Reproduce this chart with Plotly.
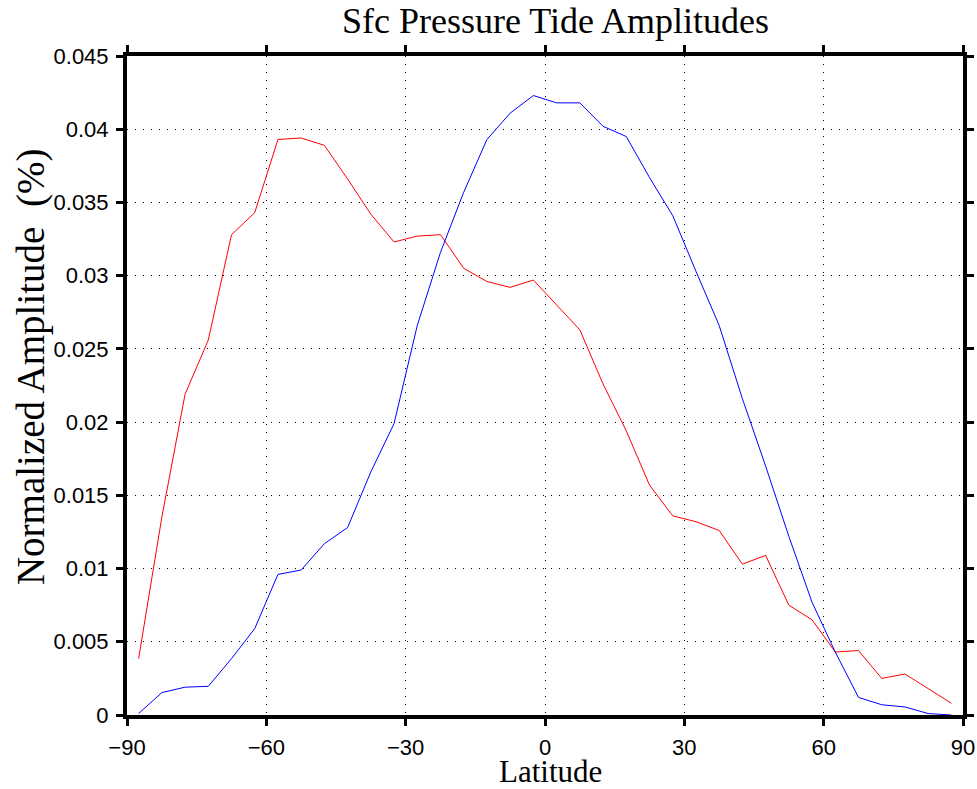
import plotly.graph_objects as go

latitude = [-87.5, -82.5, -77.5, -72.5, -67.5, -62.5, -57.5, -52.5, -47.5, -42.5,
            -37.5, -32.5, -27.5, -22.5, -17.5, -12.5, -7.5, -2.5, 2.5, 7.5,
            12.5, 17.5, 22.5, 27.5, 32.5, 37.5, 42.5, 47.5, 52.5, 57.5,
            62.5, 67.5, 72.5, 77.5, 82.5, 87.5]

red_amp = [0.00385, 0.0135, 0.0219, 0.0256, 0.0328, 0.0343, 0.0393, 0.0394, 0.0389, 0.0366,
           0.0342, 0.0323, 0.0327, 0.0328, 0.0305, 0.0296, 0.0292, 0.0297, 0.0280, 0.0263,
           0.0226, 0.0194, 0.0157, 0.0136, 0.0132, 0.0126, 0.0103, 0.0109, 0.0075, 0.0065,
           0.0043, 0.0044, 0.0025, 0.0028, 0.0018, 0.0008]

blue_amp = [0.0001, 0.00153, 0.0019, 0.00196, 0.00385, 0.0059, 0.0096, 0.0099, 0.0117, 0.0128,
            0.0166, 0.0199, 0.0266, 0.0316, 0.0357, 0.0393, 0.0411, 0.0423, 0.0418, 0.0418,
            0.0402, 0.0395, 0.0367, 0.0341, 0.0303, 0.0266, 0.0216, 0.0170, 0.0122, 0.0077,
            0.0043, 0.0012, 0.0007, 0.00055, 0.0001, 0.0]

x_ticks = [-90, -60, -30, 0, 30, 60, 90]
y_ticks = [0, 0.005, 0.01, 0.015, 0.02, 0.025, 0.03, 0.035, 0.04, 0.045]
y_tick_text = ["0", "0.005", "0.01", "0.015", "0.02", "0.025", "0.03", "0.035", "0.04", "0.045"]

title_text = "Sfc Pressure Tide Amplitudes"
x_title = "Latitude"
y_title = "Normalized Amplitude  (%)"

fig = go.Figure()
fig.add_trace(go.Scatter(x=latitude, y=red_amp, mode="lines",
                         line=dict(color="#ff0000", width=1), showlegend=False))
fig.add_trace(go.Scatter(x=latitude, y=blue_amp, mode="lines",
                         line=dict(color="#0000ff", width=1), showlegend=False))

axis_common = dict(
    showline=True, linecolor="black", linewidth=4, mirror="ticks",
    ticks="outside", ticklen=7, tickwidth=3, tickcolor="black",
    showgrid=True, gridcolor="black", gridwidth=1, griddash="1px,7px",
    zeroline=False, automargin=False,
    tickfont=dict(family="Liberation Sans, Arial, sans-serif", size=22, color="black"),
)

fig.update_xaxes(range=[-90, 90], tickvals=x_ticks, ticklabelstandoff=3, **axis_common)
fig.update_yaxes(range=[0, 0.045], tickvals=y_ticks, ticktext=y_tick_text,
                 ticklabelstandoff=3, **axis_common)

serif = "Liberation Serif, Times New Roman, serif"
fig.update_layout(
    width=977, height=789,
    margin=dict(l=127, r=14, t=56, b=74, pad=0),
    paper_bgcolor="white", plot_bgcolor="white",
    annotations=[
        dict(text=title_text, xref="paper", yref="paper", x=0.512, y=1.053,
             xanchor="center", yanchor="middle", showarrow=False,
             font=dict(family=serif, size=36, color="black")),
        dict(text=x_title, xref="paper", yref="paper", x=0.507, y=-0.085,
             xanchor="center", yanchor="middle", showarrow=False,
             font=dict(family=serif, size=31, color="black")),
        dict(text=y_title, xref="paper", yref="paper", x=-0.1148, y=0.528,
             xanchor="center", yanchor="middle", showarrow=False, textangle=-90,
             font=dict(family=serif, size=39, color="black")),
    ],
)

fig.write_html(
    "out.html",
    config={"displayModeBar": False},
    post_script="document.body.style.margin='0';document.body.style.overflow='hidden';",
)
